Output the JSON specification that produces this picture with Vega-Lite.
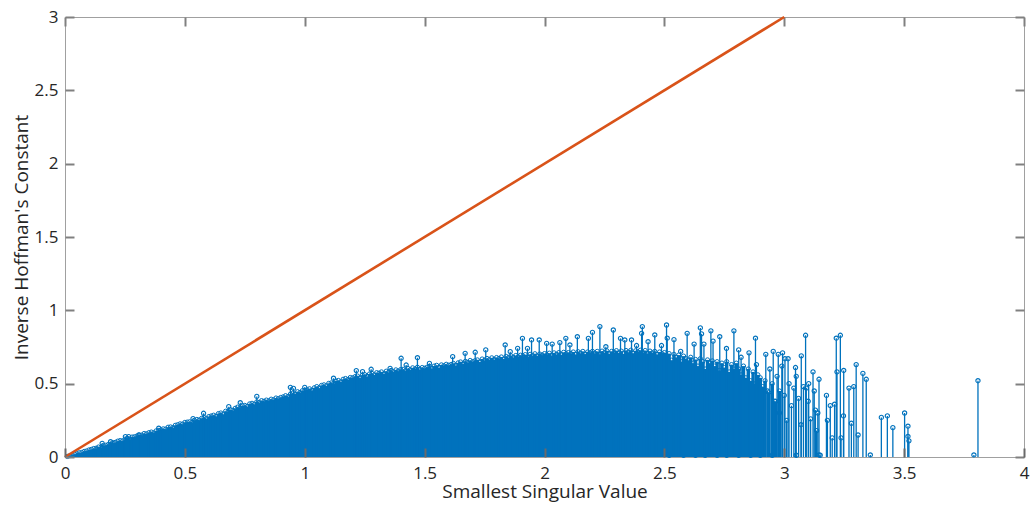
{
  "$schema": "https://vega.github.io/schema/vega-lite/v6.json",
  "autosize": "none",
  "width": 959,
  "height": 440,
  "padding": {"left": 65, "top": 17, "right": 11, "bottom": 51},
  "background": "white",
  "config": {
    "view": {"stroke": "#a0a0a0", "strokeWidth": 1},
    "axis": {
      "domain": false,
      "grid": false,
      "labelFont": "Open Sans",
      "labelFontSize": 17,
      "labelColor": "#262626",
      "labelOverlap": false,
      "labelFlush": false,
      "titleFont": "Open Sans",
      "titleFontSize": 19,
      "titleFontWeight": "normal",
      "titleColor": "#262626"
    }
  },
  "datasets": {
    "dense": [
      {"x":0.01,"y":0.004},{"x":0.02,"y":0.009},{"x":0.03,"y":0.013},{"x":0.04,"y":0.019},{"x":0.05,"y":0.022},{"x":0.06,"y":0.029},{"x":0.07,"y":0.031},{"x":0.08,"y":0.038},{"x":0.09,"y":0.041},{"x":0.10,"y":0.048},
      {"x":0.11,"y":0.052},{"x":0.12,"y":0.058},{"x":0.13,"y":0.060},{"x":0.14,"y":0.068},{"x":0.15,"y":0.066},{"x":0.16,"y":0.078},{"x":0.17,"y":0.080},{"x":0.18,"y":0.085},{"x":0.19,"y":0.088},{"x":0.20,"y":0.097},
      {"x":0.21,"y":0.100},{"x":0.22,"y":0.108},{"x":0.23,"y":0.112},{"x":0.24,"y":0.110},{"x":0.25,"y":0.121},{"x":0.26,"y":0.127},{"x":0.27,"y":0.122},{"x":0.28,"y":0.136},{"x":0.29,"y":0.138},{"x":0.30,"y":0.143},
      {"x":0.31,"y":0.150},{"x":0.32,"y":0.149},{"x":0.33,"y":0.160},{"x":0.34,"y":0.158},{"x":0.35,"y":0.166},{"x":0.36,"y":0.170},{"x":0.37,"y":0.165},{"x":0.38,"y":0.178},{"x":0.39,"y":0.181},{"x":0.40,"y":0.184},
      {"x":0.41,"y":0.192},{"x":0.42,"y":0.190},{"x":0.43,"y":0.203},{"x":0.44,"y":0.205},{"x":0.45,"y":0.200},{"x":0.46,"y":0.216},{"x":0.47,"y":0.220},{"x":0.48,"y":0.226},{"x":0.49,"y":0.224},{"x":0.50,"y":0.236},
      {"x":0.51,"y":0.238},{"x":0.52,"y":0.240},{"x":0.53,"y":0.236},{"x":0.54,"y":0.250},{"x":0.55,"y":0.256},{"x":0.56,"y":0.252},{"x":0.57,"y":0.264},{"x":0.58,"y":0.270},{"x":0.59,"y":0.262},{"x":0.60,"y":0.276},
      {"x":0.61,"y":0.280},{"x":0.62,"y":0.285},{"x":0.63,"y":0.278},{"x":0.64,"y":0.296},{"x":0.65,"y":0.300},{"x":0.66,"y":0.292},{"x":0.67,"y":0.312},{"x":0.68,"y":0.310},{"x":0.69,"y":0.322},{"x":0.70,"y":0.318},
      {"x":0.71,"y":0.332},{"x":0.72,"y":0.340},{"x":0.73,"y":0.335},{"x":0.74,"y":0.350},{"x":0.75,"y":0.352},{"x":0.76,"y":0.345},{"x":0.77,"y":0.362},{"x":0.78,"y":0.366},{"x":0.79,"y":0.360},{"x":0.80,"y":0.376},
      {"x":0.81,"y":0.372},{"x":0.82,"y":0.384},{"x":0.83,"y":0.380},{"x":0.84,"y":0.388},{"x":0.85,"y":0.383},{"x":0.86,"y":0.394},{"x":0.87,"y":0.390},{"x":0.88,"y":0.402},{"x":0.89,"y":0.398},{"x":0.90,"y":0.406},
      {"x":0.91,"y":0.410},{"x":0.92,"y":0.418},{"x":0.93,"y":0.412},{"x":0.94,"y":0.428},{"x":0.95,"y":0.435},{"x":0.96,"y":0.430},{"x":0.97,"y":0.445},{"x":0.98,"y":0.440},{"x":0.99,"y":0.452},{"x":1.00,"y":0.455},
      {"x":1.01,"y":0.458},{"x":1.02,"y":0.465},{"x":1.03,"y":0.455},{"x":1.04,"y":0.472},{"x":1.05,"y":0.480},{"x":1.06,"y":0.470},{"x":1.07,"y":0.488},{"x":1.08,"y":0.492},{"x":1.09,"y":0.485},{"x":1.10,"y":0.502},
      {"x":1.11,"y":0.505},{"x":1.12,"y":0.500},{"x":1.13,"y":0.518},{"x":1.14,"y":0.522},{"x":1.15,"y":0.512},{"x":1.16,"y":0.530},{"x":1.17,"y":0.535},{"x":1.18,"y":0.528},{"x":1.19,"y":0.542},{"x":1.20,"y":0.540},
      {"x":1.21,"y":0.548},{"x":1.22,"y":0.552},{"x":1.23,"y":0.540},{"x":1.24,"y":0.558},{"x":1.25,"y":0.562},{"x":1.26,"y":0.550},{"x":1.27,"y":0.566},{"x":1.28,"y":0.570},{"x":1.29,"y":0.560},{"x":1.30,"y":0.575},
      {"x":1.31,"y":0.572},{"x":1.32,"y":0.580},{"x":1.33,"y":0.568},{"x":1.34,"y":0.585},{"x":1.35,"y":0.578},{"x":1.36,"y":0.590},{"x":1.37,"y":0.582},{"x":1.38,"y":0.594},{"x":1.39,"y":0.586},{"x":1.40,"y":0.596},
      {"x":1.41,"y":0.598},{"x":1.42,"y":0.588},{"x":1.43,"y":0.604},{"x":1.44,"y":0.595},{"x":1.45,"y":0.608},{"x":1.46,"y":0.600},{"x":1.47,"y":0.612},{"x":1.48,"y":0.598},{"x":1.49,"y":0.610},{"x":1.50,"y":0.605},
      {"x":1.51,"y":0.612},{"x":1.52,"y":0.618},{"x":1.53,"y":0.605},{"x":1.54,"y":0.620},{"x":1.55,"y":0.625},{"x":1.56,"y":0.610},{"x":1.57,"y":0.628},{"x":1.58,"y":0.622},{"x":1.59,"y":0.632},{"x":1.60,"y":0.626},
      {"x":1.61,"y":0.630},{"x":1.62,"y":0.638},{"x":1.63,"y":0.625},{"x":1.64,"y":0.642},{"x":1.65,"y":0.648},{"x":1.66,"y":0.636},{"x":1.67,"y":0.652},{"x":1.68,"y":0.645},{"x":1.69,"y":0.658},{"x":1.70,"y":0.650},
      {"x":1.71,"y":0.656},{"x":1.72,"y":0.662},{"x":1.73,"y":0.648},{"x":1.74,"y":0.668},{"x":1.75,"y":0.660},{"x":1.76,"y":0.672},{"x":1.77,"y":0.664},{"x":1.78,"y":0.676},{"x":1.79,"y":0.665},{"x":1.80,"y":0.678},
      {"x":1.81,"y":0.672},{"x":1.82,"y":0.682},{"x":1.83,"y":0.668},{"x":1.84,"y":0.686},{"x":1.85,"y":0.678},{"x":1.86,"y":0.690},{"x":1.87,"y":0.680},{"x":1.88,"y":0.692},{"x":1.89,"y":0.684},{"x":1.90,"y":0.694},
      {"x":1.91,"y":0.688},{"x":1.92,"y":0.698},{"x":1.93,"y":0.682},{"x":1.94,"y":0.700},{"x":1.95,"y":0.692},{"x":1.96,"y":0.704},{"x":1.97,"y":0.690},{"x":1.98,"y":0.702},{"x":1.99,"y":0.695},{"x":2.00,"y":0.705},
      {"x":2.01,"y":0.696},{"x":2.02,"y":0.708},{"x":2.03,"y":0.692},{"x":2.04,"y":0.710},{"x":2.05,"y":0.700},{"x":2.06,"y":0.712},{"x":2.07,"y":0.698},{"x":2.08,"y":0.714},{"x":2.09,"y":0.704},{"x":2.10,"y":0.712},
      {"x":2.11,"y":0.705},{"x":2.12,"y":0.716},{"x":2.13,"y":0.700},{"x":2.14,"y":0.718},{"x":2.15,"y":0.708},{"x":2.16,"y":0.720},{"x":2.17,"y":0.702},{"x":2.18,"y":0.716},{"x":2.19,"y":0.710},{"x":2.20,"y":0.720},
      {"x":2.21,"y":0.708},{"x":2.22,"y":0.720},{"x":2.23,"y":0.700},{"x":2.24,"y":0.722},{"x":2.25,"y":0.712},{"x":2.26,"y":0.724},{"x":2.27,"y":0.705},{"x":2.28,"y":0.720},{"x":2.29,"y":0.714},{"x":2.30,"y":0.725},
      {"x":2.31,"y":0.710},{"x":2.32,"y":0.722},{"x":2.33,"y":0.704},{"x":2.34,"y":0.726},{"x":2.35,"y":0.715},{"x":2.36,"y":0.728},{"x":2.37,"y":0.708},{"x":2.38,"y":0.724},{"x":2.39,"y":0.716},{"x":2.40,"y":0.728},
      {"x":2.41,"y":0.712},{"x":2.42,"y":0.726},{"x":2.43,"y":0.705},{"x":2.44,"y":0.722},{"x":2.45,"y":0.710},{"x":2.46,"y":0.720},{"x":2.47,"y":0.700},{"x":2.48,"y":0.716},{"x":2.49,"y":0.704},{"x":2.50,"y":0.712},
      {"x":2.51,"y":0.690},{"x":2.52,"y":0.705},{"x":2.53,"y":0.660},{"x":2.54,"y":0.700},{"x":2.55,"y":0.680},{"x":2.56,"y":0.695},{"x":2.57,"y":0.650},{"x":2.58,"y":0.688},{"x":2.59,"y":0.670},{"x":2.60,"y":0.660},
      {"x":2.61,"y":0.680},{"x":2.62,"y":0.640},{"x":2.63,"y":0.665},{"x":2.64,"y":0.620},{"x":2.65,"y":0.670},{"x":2.66,"y":0.650},{"x":2.67,"y":0.600},{"x":2.68,"y":0.662},{"x":2.69,"y":0.640},{"x":2.70,"y":0.655},
      {"x":2.71,"y":0.620},{"x":2.72,"y":0.650},{"x":2.73,"y":0.590},{"x":2.74,"y":0.640},{"x":2.75,"y":0.610},{"x":2.76,"y":0.650},{"x":2.77,"y":0.580},{"x":2.78,"y":0.630},{"x":2.79,"y":0.600},{"x":2.80,"y":0.640},
      {"x":2.81,"y":0.600},{"x":2.82,"y":0.560},{"x":2.83,"y":0.620},{"x":2.84,"y":0.540},{"x":2.85,"y":0.600},{"x":2.86,"y":0.520},{"x":2.87,"y":0.580},{"x":2.88,"y":0.500},{"x":2.89,"y":0.560},{"x":2.90,"y":0.540},
      {"x":2.91,"y":0.480},{"x":2.92,"y":0.520},{"x":2.935,"y":0.440},{"x":2.95,"y":0.500},{"x":2.965,"y":0.380},{"x":2.98,"y":0.450}
    ],
    "spikes": [
      {"x":0.155,"y":0.093},{"x":0.19,"y":0.104},{"x":0.252,"y":0.139},{"x":0.266,"y":0.139},{"x":0.308,"y":0.150},{"x":0.391,"y":0.196},
      {"x":0.534,"y":0.262},{"x":0.578,"y":0.298},{"x":0.683,"y":0.343},{"x":0.731,"y":0.370},{"x":0.80,"y":0.413},{"x":0.94,"y":0.475},
      {"x":0.953,"y":0.468},{"x":1.00,"y":0.475},{"x":1.12,"y":0.537},{"x":1.215,"y":0.589},{"x":1.241,"y":0.582},{"x":1.277,"y":0.598},
      {"x":1.356,"y":0.604},{"x":1.402,"y":0.673},{"x":1.423,"y":0.627},{"x":1.470,"y":0.677},{"x":1.520,"y":0.638},{"x":1.617,"y":0.684},
      {"x":1.669,"y":0.707},{"x":1.711,"y":0.714},{"x":1.755,"y":0.730},{"x":1.836,"y":0.764},{"x":1.857,"y":0.718},{"x":1.888,"y":0.741},
      {"x":1.908,"y":0.809},{"x":1.929,"y":0.741},{"x":1.946,"y":0.798},{"x":1.978,"y":0.798},{"x":2.009,"y":0.775},{"x":2.032,"y":0.770},
      {"x":2.064,"y":0.780},{"x":2.089,"y":0.809},{"x":2.106,"y":0.764},{"x":2.137,"y":0.820},{"x":2.183,"y":0.809},{"x":2.200,"y":0.850},
      {"x":2.231,"y":0.889},{"x":2.256,"y":0.752},{"x":2.287,"y":0.866},{"x":2.317,"y":0.809},{"x":2.335,"y":0.798},{"x":2.363,"y":0.798},
      {"x":2.384,"y":0.760},{"x":2.405,"y":0.843},{"x":2.408,"y":0.889},{"x":2.432,"y":0.786},{"x":2.460,"y":0.832},{"x":2.488,"y":0.760},
      {"x":2.509,"y":0.900},{"x":2.512,"y":0.810},{"x":2.54,"y":0.80},{"x":2.568,"y":0.72},{"x":2.595,"y":0.843},{"x":2.624,"y":0.77},
      {"x":2.65,"y":0.88},{"x":2.655,"y":0.84},{"x":2.665,"y":0.77},{"x":2.694,"y":0.86},{"x":2.703,"y":0.79},{"x":2.731,"y":0.82},
      {"x":2.759,"y":0.74},{"x":2.79,"y":0.86},{"x":2.81,"y":0.73},{"x":2.82,"y":0.68},{"x":2.853,"y":0.71},{"x":2.88,"y":0.81},
      {"x":2.884,"y":0.63},{"x":2.923,"y":0.70},{"x":2.93,"y":0.45},{"x":2.94,"y":0.60},{"x":2.954,"y":0.72},{"x":2.96,"y":0.38},
      {"x":2.97,"y":0.55},{"x":2.975,"y":0.70},{"x":2.98,"y":0.30},{"x":2.99,"y":0.62},{"x":2.993,"y":0.71},{"x":3.00,"y":0.42},
      {"x":3.003,"y":0.67},{"x":3.01,"y":0.25},{"x":3.016,"y":0.67},{"x":3.02,"y":0.50},{"x":3.03,"y":0.35},{"x":3.04,"y":0.47},
      {"x":3.047,"y":0.61},{"x":3.05,"y":0.55},{"x":3.06,"y":0.40},{"x":3.07,"y":0.22},{"x":3.071,"y":0.69},{"x":3.08,"y":0.48},
      {"x":3.089,"y":0.83},{"x":3.092,"y":0.47},{"x":3.10,"y":0.38},{"x":3.102,"y":0.50},{"x":3.11,"y":0.26},{"x":3.12,"y":0.58},
      {"x":3.125,"y":0.45},{"x":3.13,"y":0.32},{"x":3.135,"y":0.18},{"x":3.14,"y":0.30},{"x":3.145,"y":0.53},{"x":3.145,"y":0.014},
      {"x":3.176,"y":0.42},{"x":3.18,"y":0.25},{"x":3.192,"y":0.35},{"x":3.2,"y":0.13},{"x":3.21,"y":0.36},{"x":3.217,"y":0.81},
      {"x":3.22,"y":0.58},{"x":3.234,"y":0.83},{"x":3.237,"y":0.13},{"x":3.247,"y":0.28},{"x":3.248,"y":0.59},{"x":3.27,"y":0.47},
      {"x":3.28,"y":0.23},{"x":3.29,"y":0.48},{"x":3.30,"y":0.63},{"x":3.308,"y":0.15},{"x":3.328,"y":0.57},{"x":3.342,"y":0.53},
      {"x":3.359,"y":0.014},{"x":3.405,"y":0.27},{"x":3.43,"y":0.28},{"x":3.453,"y":0.20},{"x":3.502,"y":0.30},{"x":3.516,"y":0.21},
      {"x":3.516,"y":0.14},{"x":3.52,"y":0.11},{"x":3.791,"y":0.014},{"x":3.808,"y":0.52},
      {"x":2.52,"y":0.012},{"x":2.58,"y":0.012},{"x":2.63,"y":0.012},{"x":2.67,"y":0.012},{"x":2.72,"y":0.012},{"x":2.76,"y":0.012},
      {"x":2.81,"y":0.012},{"x":2.86,"y":0.012},{"x":2.90,"y":0.012},{"x":2.95,"y":0.012},{"x":3.05,"y":0.012},{"x":3.15,"y":0.012}
    ],
    "ref": [{"x":0,"y":0},{"x":3,"y":3}]
  },
  "layer": [
    {
      "data": {"name": "ref"},
      "mark": {"type": "line", "color": "#D95319", "strokeWidth": 2.6, "opacity": 0},
      "encoding": {
        "x": {"field": "x", "type": "quantitative", "scale": {"domain": [0, 4], "nice": false, "zero": false},
              "axis": {"orient": "bottom", "values": [0,0.5,1,1.5,2,2.5,3,3.5,4], "format": "~g", "title": "Smallest Singular Value", "labelPadding": 8, "titlePadding": 1, "ticks": true, "tickSize": 9, "offset": -9, "tickColor": "dimgray", "tickWidth": 2, "zindex": 1}},
        "y": {"field": "y", "type": "quantitative", "scale": {"domain": [0, 3], "nice": false, "zero": false},
              "axis": {"orient": "left", "values": [0,0.5,1,1.5,2,2.5,3], "format": "~g", "title": "Inverse Hoffman's Constant", "labelPadding": 7, "titlePadding": 3, "ticks": true, "tickSize": 9, "offset": -9, "tickColor": "gray", "tickWidth": 2, "zindex": 1}}
      }
    },
    {
      "data": {"name": "ref"},
      "mark": {"type": "line", "color": "#D95319", "strokeWidth": 2.6, "opacity": 0},
      "encoding": {
        "x": {"field": "x", "type": "quantitative",
              "axis": {"orient": "top", "values": [0,0.5,1,1.5,2,2.5,3,3.5,4], "labels": false, "title": null, "ticks": true, "tickSize": -9, "tickColor": "gray", "tickWidth": 2}},
        "y": {"field": "y", "type": "quantitative",
              "axis": {"orient": "right", "values": [0,0.5,1,1.5,2,2.5,3], "labels": false, "title": null, "ticks": true, "tickSize": -9, "tickColor": "gray", "tickWidth": 2}}
      }
    },
    {
      "data": {"name": "dense"},
      "mark": {"type": "rule", "color": "#0072BD", "strokeWidth": 3.4},
      "encoding": {
        "x": {"field": "x", "type": "quantitative", "axis": null},
        "y": {"field": "y", "type": "quantitative", "axis": null},
        "y2": {"datum": 0}
      }
    },
    {
      "data": {"name": "dense"},
      "mark": {"type": "point", "shape": "circle", "filled": false, "color": "#0072BD", "size": 18, "strokeWidth": 1, "opacity": 1},
      "encoding": {
        "x": {"field": "x", "type": "quantitative", "axis": null},
        "y": {"field": "y", "type": "quantitative", "axis": null}
      }
    },
    {
      "data": {"name": "spikes"},
      "mark": {"type": "rule", "color": "#0072BD", "strokeWidth": 1.3},
      "encoding": {
        "x": {"field": "x", "type": "quantitative", "axis": null},
        "y": {"field": "y", "type": "quantitative", "axis": null},
        "y2": {"datum": 0}
      }
    },
    {
      "data": {"name": "spikes"},
      "mark": {"type": "point", "shape": "circle", "filled": false, "color": "#0072BD", "size": 18, "strokeWidth": 1.1, "opacity": 1},
      "encoding": {
        "x": {"field": "x", "type": "quantitative", "axis": null},
        "y": {"field": "y", "type": "quantitative", "axis": null}
      }
    },
    {
      "data": {"name": "ref"},
      "mark": {"type": "line", "color": "#D95319", "strokeWidth": 2.6},
      "encoding": {
        "x": {"field": "x", "type": "quantitative", "axis": null},
        "y": {"field": "y", "type": "quantitative", "axis": null}
      }
    }
  ],
  "resolve": {"axis": {"x": "independent", "y": "independent"}}
}
